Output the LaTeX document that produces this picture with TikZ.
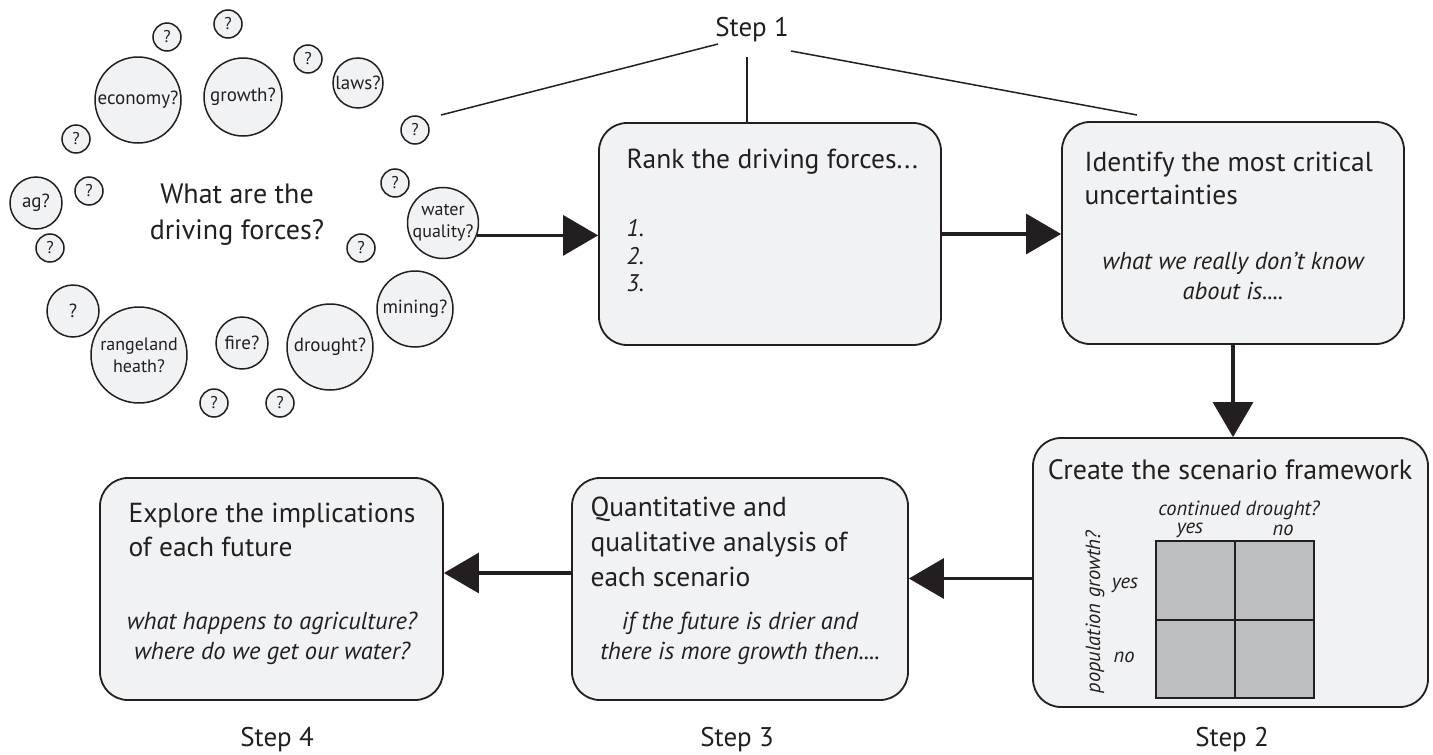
\documentclass[tikz,border=0pt]{standalone}
\usepackage{fontspec}
\setmainfont{PT Sans}
\usetikzlibrary{arrows.meta,calc}
\definecolor{ink}{HTML}{231F20}
\definecolor{paper}{HTML}{F1F2F3}
\definecolor{cellgray}{HTML}{BCBEC0}
\begin{document}
\begin{tikzpicture}[x=1pt,y=-1pt,
  stage/.style={draw=ink, fill=paper, line width=1.8pt, rounded corners=28pt, inner sep=0pt},
  bubble/.style={circle, draw=ink, fill=paper, line width=1.5pt, inner sep=0pt, align=center,
                 text=ink, font=\fontsize{19}{21}\selectfont},
  qmark/.style={bubble, minimum size=28pt, font=\fontsize{17}{19}\selectfont},
  flow/.style={draw=ink, line width=3.3pt, -{Triangle[length=35pt,width=40pt]}},
  thin/.style={draw=ink, line width=1.5pt},
  title/.style={anchor=west, align=left, text=ink, font=\fontsize{27.5}{34}\selectfont},
  note/.style={align=center, text=ink, font=\itshape\fontsize{24.5}{30}\selectfont},
  steplabel/.style={text=ink, font=\fontsize{27}{30}\selectfont},
  gridlabel/.style={text=ink, font=\itshape\fontsize{20.5}{22}\selectfont, inner sep=1pt}]
\useasboundingbox (0,0) rectangle (1433,755);

% ---- driving-force bubbles ----
\node[bubble, minimum size=86pt] (economy) at (138,100) {economy?};
\node[bubble, minimum size=78pt] (growth) at (243,97) {growth?};
\node[bubble, minimum size=50pt] (laws) at (358,83) {laws?};
\node[bubble, minimum size=52pt] (ag) at (36,203) {ag?};
\node[bubble, minimum size=70pt, font=\fontsize{18}{22}\selectfont] (water) at (443,223) {water\\quality?};
\node[bubble, minimum size=76pt] (mining) at (415,309) {mining?};
\node[bubble, minimum size=86pt] (drought) at (330,347) {drought?};
\node[bubble, minimum size=52pt] (fire) at (242,343) {fire?};
\node[bubble, minimum size=96pt, font=\fontsize{18}{22}\selectfont] (rangeland) at (139,355) {rangeland\\heath?};
\node[bubble, minimum size=52pt] (qbig) at (73,311) {?};
\node[qmark] (q1) at (167,37) {?};
\node[qmark] (q2) at (228,24) {?};
\node[qmark] (q3) at (308,59) {?};
\node[qmark] (q4) at (415,130) {?};
\node[qmark] (q5) at (76,139) {?};
\node[qmark] (q6) at (89,191) {?};
\node[qmark] (q7) at (50,248) {?};
\node[qmark] (q8) at (395,183) {?};
\node[qmark] (q9) at (361,248) {?};
\node[qmark] (q10) at (214,403) {?};
\node[qmark] (q11) at (280,403) {?};
\node[align=center, text=ink, font=\fontsize{28}{36}\selectfont] (question) at (237,215)
  {What are the\\driving forces?};

% ---- process stages ----
\node[stage, minimum width=342pt, minimum height=222pt] (rank) at (770,234) {};
\node[stage, minimum width=342pt, minimum height=222pt] (identify) at (1233,233) {};
\node[stage, minimum width=395pt, minimum height=269pt] (create) at (1230.5,572.5) {};
\node[stage, minimum width=336pt, minimum height=222pt] (quant) at (740,589) {};
\node[stage, minimum width=343pt, minimum height=222pt] (explore) at (271.5,589) {};

% stage texts
\node[title] (ranktitle) at (623,162) {Rank the driving forces...};
\node[anchor=west, align=left, text=ink, font=\itshape\fontsize{24}{27.5}\selectfont] (ranklist) at (623,256) {1.\\2.\\3.};

\node[title, font=\fontsize{27.5}{33}\selectfont] (identtitle) at (1081,178.5) {Identify the most critical\\uncertainties};
\node[note] (identnote) at (1233,276) {what we really don’t know\\about is....};

\node[text=ink, font=\fontsize{28}{30}\selectfont] (createtitle) at (1230,470) {Create the scenario framework};

\node[title, font=\fontsize{27.5}{35}\selectfont] (quanttitle) at (587,542) {Quantitative and\\qualitative analysis of\\each scenario};
\node[note] (quantnote) at (740,638) {if the future is drier and\\there is more growth then....};

\node[title] (exptitle) at (125,530) {Explore the implications\\of each future};
\node[note] (expnote) at (272,638) {what happens to agriculture?\\where do we get our water?};

% scenario framework grid
\draw[ink, line width=1.8pt, fill=cellgray] (1156,541) rectangle (1314,698);
\draw[ink, line width=1.8pt] (1235,541) -- (1235,698) (1156,620) -- (1314,620);
\node[gridlabel] (gdrought) at (1239,510) {continued drought?};
\node[gridlabel] (gyes1) at (1190,530) {yes};
\node[gridlabel] (gno1) at (1283,530) {no};
\node[gridlabel] (gyes2) at (1125,585) {yes};
\node[gridlabel] (gno2) at (1124,657) {no};
\node[gridlabel, rotate=90] (gpop) at (1095,612) {population growth?};

% ---- step labels ----
\node[steplabel] (step1) at (752,30) {Step 1};
\node[steplabel] (step2) at (1232,740) {Step 2};
\node[steplabel] (step3) at (737,740) {Step 3};
\node[steplabel] (step4) at (277,740) {Step 4};

\coordinate (s1left) at (718,44);
\coordinate (s1mid) at (747,57);
\coordinate (s1right) at (791,51);
\coordinate (bubblesend) at (441,115);
\coordinate (identend) at (1137,115);
\draw[thin] (s1left) -- (bubblesend);
\draw[thin] (s1mid) -- (s1mid |- rank.north);
\draw[thin] (s1right) -- (identend);

% ---- flow arrows ----
\draw[flow] (water.-20) -- (water.-20 -| rank.west);
\draw[flow] (rank.east) -- (rank.east -| identify.west);
\draw[flow] (identify.south) -- (identify.south |- create.north);
\draw[flow] ([yshift=-6pt]create.west) -- ([yshift=-6pt]create.west -| quant.east);
\draw[flow] ([yshift=16pt]quant.west) -- ([yshift=16pt]quant.west -| explore.east);
\end{tikzpicture}
\end{document}
